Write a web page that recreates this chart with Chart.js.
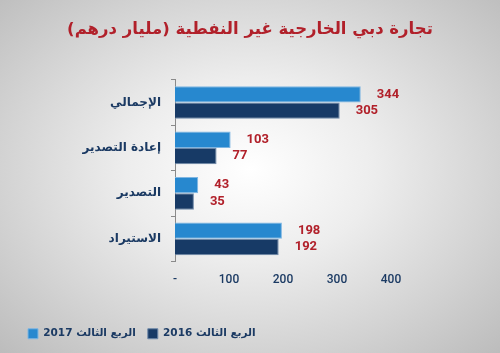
<!DOCTYPE html>
<html>
<head>
<meta charset="utf-8">
<script src="https://cdn.jsdelivr.net/npm/chart.js@4"></script>
<style>
  html, body { margin: 0; padding: 0; }
  body {
    width: 500px; height: 353px; overflow: hidden;
    background: radial-gradient(ellipse at 50% 48%, #ffffff 0%, #ededed 35%, #d3d3d3 70%, #bcbcbc 100%);
  }
  #wrap { width: 500px; height: 353px; position: relative; }
  canvas { direction: rtl; }
</style>
</head>
<body>
<div id="wrap"><canvas id="tradeChart"></canvas></div>
<script>
/* Dubai non-oil foreign trade, Q3 (billion AED) */

const categories = ['الإجمالي', 'إعادة التصدير', 'التصدير', 'الاستيراد'];
const q3_2017 = [344, 103, 43, 198];
const q3_2016 = [305, 77, 35, 192];
const seriesNames = ['الربع الثالث 2017', 'الربع الثالث 2016'];
const xTickValues = [0, 100, 200, 300, 400];

const navy = '#1b3a63';
const red = '#b1202a';
const numFont = "Roboto, 'DejaVu Sans', sans-serif";
const arFont = "'DejaVu Sans', sans-serif";

// red numbers to the right of each bar
const valueLabels = {
  id: 'valueLabels',
  afterDatasetsDraw(chart){
    const c = chart.ctx;
    c.save();
    c.font = 'bold 13px ' + numFont;
    c.fillStyle = red;
    c.textAlign = 'left';
    c.textBaseline = 'middle';
    chart.data.datasets.forEach((ds, i) => {
      chart.getDatasetMeta(i).data.forEach((bar, j) => {
        c.fillText(ds.data[j], bar.x + 16, bar.y);
      });
    });
    c.restore();
  }
};

const ctx = document.getElementById('tradeChart');

const tradeChart = new Chart(ctx, {
  type: 'bar',
  data: {
    labels: categories,
    datasets: [{
      label: seriesNames[0],
      data: q3_2017,
      backgroundColor: '#2788cf',
      borderColor: '#7fb6e2',
      borderWidth: 1,
      categoryPercentage: 0.72,
      barPercentage: 1
    }, {
      label: seriesNames[1],
      data: q3_2016,
      backgroundColor: '#173a66',
      borderColor: '#6d88a8',
      borderWidth: 1,
      categoryPercentage: 0.72,
      barPercentage: 1
    }]
  },
  options: {
    indexAxis: 'y',
    responsive: true,
    maintainAspectRatio: false,
    animation: false,
    layout: { padding: { left: 16, right: 16, top: 0, bottom: 4 } },
    plugins: {
      title: {
        display: true,
        text: 'تجارة دبي الخارجية غير النفطية (مليار درهم)',
        color: red,
        font: { family: arFont, size: 16.5, weight: 'bold' },
        padding: { top: 20, bottom: 40 }
      },
      legend: {
        position: 'bottom',
        align: 'start',
        labels: {
          color: navy,
          font: { family: arFont, size: 10.5, weight: 'bold' },
          boxWidth: 10,
          boxHeight: 10,
          padding: 12
        }
      },
      tooltip: { enabled: false }
    },
    scales: {
      x: {
        min: 0,
        max: 400,
        afterBuildTicks(scale){
          scale.ticks = xTickValues.map(v => ({ value: v }));
        },
        ticks: {
          color: navy,
          font: { family: numFont, size: 12, weight: '500' },
          padding: 11,
          callback: v => v === 0 ? '-' : v
        },
        grid: { display: false, drawTicks: false },
        border: { display: false },
        afterFit(scale){ scale.height = 55; }
      },
      y: {
        ticks: {
          color: navy,
          font: { family: arFont, size: 12, weight: 'bold' },
          padding: 10
        },
        grid: { drawOnChartArea: false, tickLength: 4, color: '#8a8a8a' },
        border: { display: true, color: '#8a8a8a' },
        afterFit(scale){ scale.width = 159; }
      },
      // empty spacer on the right so the plot stops at 400
      y2: {
        position: 'right',
        ticks: { display: false },
        grid: { display: false },
        border: { display: false },
        afterFit(scale){ scale.width = 93; }
      }
    }
  },
  plugins: [valueLabels]
});
</script>
</body>
</html>
